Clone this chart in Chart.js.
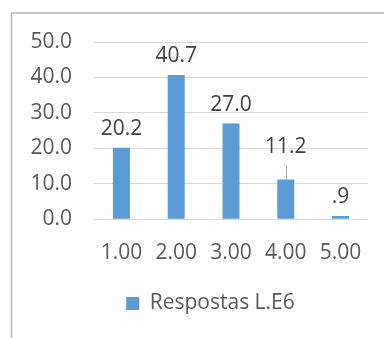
<!DOCTYPE html>
<html>
<head>
<meta charset="utf-8">
<script src="https://cdn.jsdelivr.net/npm/chart.js@4.4.0/dist/chart.umd.min.js"></script>
<style>
  html, body { margin: 0; padding: 0; background: #ffffff; }
  #wrap { width: 384px; height: 338px; position: relative; }
</style>
</head>
<body>
<div id="wrap"><canvas id="c" width="384" height="338"></canvas></div>
<script>
// Categories, series and tick labels
const categories = ['1.00', '2.00', '3.00', '4.00', '5.00'];
const seriesName = 'Respostas L.E6';
const values = [20.2, 40.7, 27.0, 11.2, 0.9];
const yTicks = [0, 10, 20, 30, 40, 50];

const FONT = "'Open Sans', 'DejaVu Sans', sans-serif";
const FONT_SIZE = 21;
const BAR_COLOR = '#5b9bd5';
const TEXT_COLOR = '#595959';
const GRID_COLOR = '#d9d9d9';

// Value labels formatted like the spreadsheet: one decimal, no leading zero below 1
function fmt(v) {
  const s = v.toFixed(1);
  return v < 1 ? s.replace(/^0/, '') : s;
}

// Outer frame of the chart object
const framePlugin = {
  id: 'frame',
  beforeDraw(chart) {
    const ctx = chart.ctx;
    ctx.save();
    ctx.fillStyle = '#ffffff';
    ctx.fillRect(0, 0, chart.width, chart.height);
    ctx.strokeStyle = '#b8b8b8';
    ctx.lineWidth = 1.5;
    ctx.strokeRect(11.5, 13, chart.width + 20, chart.height + 20);
    ctx.restore();
  }
};

// Legend sits centred under the plot rather than under the whole canvas
const legendShiftPlugin = {
  id: 'legendShift',
  afterLayout(chart, args, opts) {
    if (chart.legend) chart.legend.left = opts.left;
  }
};

// Value labels above each bar, with an optional lifted label and leader line
const valueLabelPlugin = {
  id: 'valueLabels',
  afterDatasetsDraw(chart, args, opts) {
    const ctx = chart.ctx;
    const meta = chart.getDatasetMeta(0);
    const data = chart.data.datasets[0].data;
    ctx.save();
    ctx.font = opts.font;
    ctx.fillStyle = opts.color;
    ctx.textAlign = 'center';
    ctx.textBaseline = 'alphabetic';
    meta.data.forEach((bar, i) => {
      const lift = (opts.lift && opts.lift[i]) || 0;
      const baseY = bar.y - opts.gap - lift;
      if (lift) {
        ctx.strokeStyle = opts.leaderColor;
        ctx.lineWidth = 1;
        ctx.beginPath();
        ctx.moveTo(Math.round(bar.x) + 0.5, bar.y - lift);
        ctx.lineTo(Math.round(bar.x) + 0.5, bar.y);
        ctx.stroke();
      }
      ctx.fillText(fmt(data[i]), bar.x, baseY);
    });
    ctx.restore();
  }
};

new Chart(document.getElementById('c'), {
  type: 'bar',
  data: {
    labels: categories,
    datasets: [{
      label: seriesName,
      data: values,
      backgroundColor: BAR_COLOR,
      borderWidth: 0,
      categoryPercentage: 1.0,
      barPercentage: 0.31
    }]
  },
  options: {
    responsive: false,
    animation: false,
    devicePixelRatio: 1,
    layout: { padding: { top: 42, left: 0, right: 16, bottom: 14 } },
    plugins: {
      tooltip: { enabled: false },
      legend: {
        position: 'bottom',
        labels: {
          boxWidth: 13,
          boxHeight: 13,
          padding: 10,
          color: TEXT_COLOR,
          font: { family: FONT, size: FONT_SIZE }
        }
      },
      legendShift: { left: 53 },
      valueLabels: {
        font: FONT_SIZE + "px " + FONT,
        color: '#404040',
        gap: 13,
        lift: { 3: 14 },
        leaderColor: '#a6a6a6'
      }
    },
    scales: {
      x: {
        grid: { display: false, drawTicks: false },
        border: { display: false },
        ticks: { color: TEXT_COLOR, font: { family: FONT, size: FONT_SIZE }, padding: 21, maxRotation: 0 },
        afterFit(scale) { scale.height = 63.7; }
      },
      y: {
        min: yTicks[0],
        max: yTicks[yTicks.length - 1],
        afterBuildTicks(scale) { scale.ticks = yTicks.map(v => ({ value: v })); },
        grid: { color: GRID_COLOR, lineWidth: 1, drawTicks: false },
        border: { display: false },
        ticks: {
          color: TEXT_COLOR,
          font: { family: FONT, size: FONT_SIZE },
          padding: 22,
          callback: v => v.toFixed(1)
        },
        afterFit(scale) { scale.width = 94; }
      }
    }
  },
  plugins: [framePlugin, legendShiftPlugin, valueLabelPlugin]
});
</script>
</body>
</html>
